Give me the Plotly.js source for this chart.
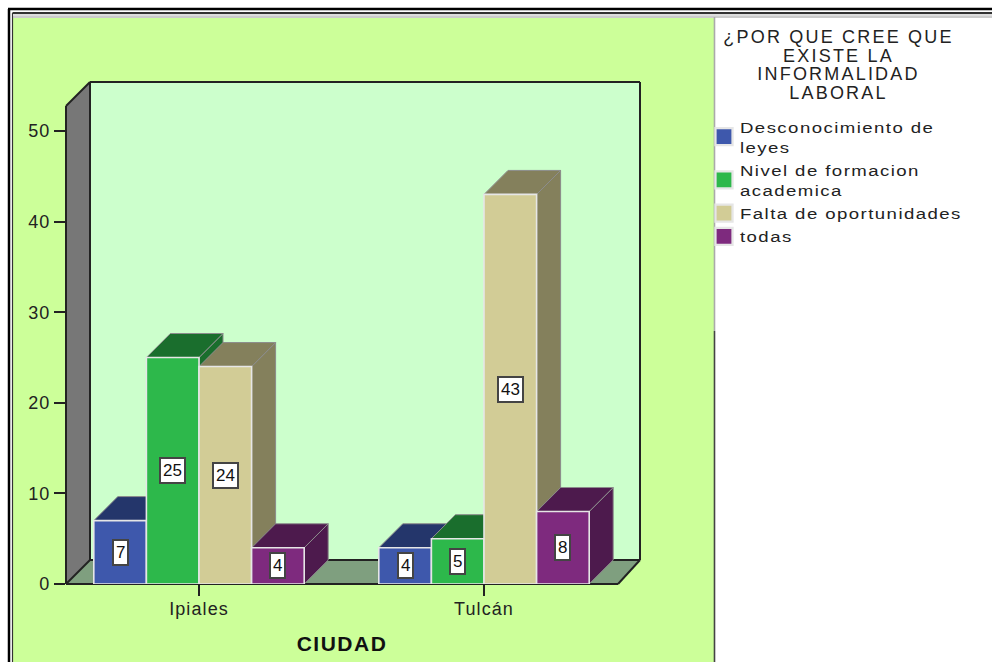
<!DOCTYPE html>
<html>
<head>
<meta charset="utf-8">
<script src="https://cdn.plot.ly/plotly-3.0.1.min.js"></script>
<style>
html,body{margin:0;padding:0;background:#fff;overflow:hidden}
#chart{width:992px;height:662px}
.xtick text,.ytick text{letter-spacing:1.1px}
.xtitle{transform:translateX(-11px);letter-spacing:1.5px}
.legendtext{letter-spacing:1.2px}
.annotation[data-index="0"] text{letter-spacing:2.2px}
</style>
</head>
<body>
<div id="chart"></div>
<script>
// ---- data ----
var cities = ['Ipiales', 'Tulcán'];
var cityPositions = [0, 1];
var seriesNames = ['Desconocimiento de<br>leyes', 'Nivel de formacion<br>academica', 'Falta de oportunidades', 'todas'];
var desconocimiento = [7, 4];
var nivel = [25, 5];
var falta = [24, 43];
var todas = [4, 8];
var seriesValues = [desconocimiento, nivel, falta, todas];
var frontColors = ['#3E58AC', '#2DB84B', '#D2CC96', '#7E2A7E'];
var darkColors = ['#24366B', '#1A6E2D', '#84805C', '#4D1A4D'];
var yTicks = [0, 10, 20, 30, 40, 50];

// ---- geometry ----
var W = 992, H = 662;
var L = 66, R = 640, T = 82, B = 584;       // plot box in px
var pxPerX = 285, pxPerY = 9.06;
var depthPx = 24;
var dx = depthPx / pxPerX, dy = depthPx / pxPerY;
var barW = 52.6 / pxPerX;
var xRange = [(L - 199) / pxPerX, (R - 199) / pxPerX];
var yRange = [0, (B - T) / pxPerY];
function px(x) { return (x - L) / (R - L); }
function py(y) { return (B - y) / (B - T); }

function rect(x0, y0, x1, y1, fill) {
  return {type:'rect', layer:'below', xref:'paper', yref:'paper',
    x0:px(x0), x1:px(x1), y0:py(y0), y1:py(y1), fillcolor:fill, line:{width:0}};
}
function seg(x0, y0, x1, y1, color, w) {
  return {type:'line', layer:'below', xref:'paper', yref:'paper',
    x0:px(x0), x1:px(x1), y0:py(y0), y1:py(y1), line:{color:color, width:w}};
}
function poly(pts, fill) {
  var d = pts.map(function (p, i) { return (i ? 'L' : 'M') + px(p[0]) + ',' + py(p[1]); }).join('') + 'Z';
  return {type:'path', layer:'below', xref:'paper', yref:'paper', path:d, fillcolor:fill, line:{width:0}};
}

var shapes = [
  // outer page frame and green panel
  rect(13, 18, 714, 664, '#CCFF99'),
  seg(8, 9, 992, 9, '#000', 2.5),
  seg(9, 9, 9, 664, '#000', 2.5),
  seg(12.5, 13, 992, 13, '#333', 2),
  seg(12.5, 13, 12.5, 664, '#333', 1.2),
  rect(13, 14, 992, 16, '#DDDDDD'),
  seg(13, 17, 992, 17, '#999', 1),
  seg(714.5, 17, 714.5, 331, '#AAAAAA', 1.6),
  seg(714.5, 331, 714.5, 664, '#444', 1.6),
  // 3D room
  poly([[90, 82], [640, 82], [640, 560], [90, 560]], '#CCFFCC'),
  poly([[66, 106], [90, 82], [90, 560], [66, 584]], '#777777'),
  poly([[66, 584], [90, 560], [640, 560], [618, 584]], '#7F9F7F'),
  seg(90, 82, 640, 82, '#222', 2),
  seg(640, 82, 640, 560, '#222', 2),
  seg(90, 82, 90, 560, '#222', 2),
  seg(66, 106, 66, 584, '#222', 2),
  seg(66, 106, 90, 82, '#222', 2),
  seg(66, 584, 90, 560, '#222', 2),
  seg(90, 560, 640, 560, '#222', 2),
  seg(66, 584, 618, 584, '#222', 2),
  seg(618, 584, 640, 560, '#222', 2)
];

var nSeries = seriesValues.length;
function barOffset(s) { return (s - nSeries / 2) * barW; }
function barLeft(c, s) { return cityPositions[c] + barOffset(s); }

// depth faces (beneath), one side and one top per bar, left to right
var traces = [];
cities.forEach(function (city, c) {
  seriesValues.forEach(function (vals, s) {
    var v = vals[c], x0 = barLeft(c, s), x1 = x0 + barW;
    [
      {x:[x1, x1 + dx, x1 + dx, x1, x1], y:[0, dy, v + dy, v, 0]},
      {x:[x0, x1, x1 + dx, x0 + dx, x0], y:[v, v, v + dy, v + dy, v]}
    ].forEach(function (f) {
      traces.push({type:'scatter', mode:'lines', x:f.x, y:f.y, fill:'toself',
        fillcolor:darkColors[s], line:{color:'#8C8C8C', width:1}, cliponaxis:false,
        showlegend:false, hoverinfo:'skip', xaxis:'x', yaxis:'y'});
    });
  });
});

// front faces: real bars in an overlaid subplot so they cover the faces
seriesValues.forEach(function (vals, s) {
  traces.push({type:'bar', name:seriesNames[s], x:cityPositions, y:vals,
    width:barW, offset:barOffset(s), marker:{color:frontColors[s], line:{color:'#E6E6E6', width:1.6}},
    cliponaxis:false, xaxis:'x', yaxis:'y2'});
});

var annotations = [{
  xref:'paper', yref:'paper', x:px(838), y:py(25), xanchor:'center', yanchor:'top',
  text:'¿POR QUE CREE QUE<br>EXISTE LA<br>INFORMALIDAD<br>LABORAL', align:'center', showarrow:false,
  font:{family:'Liberation Sans', size:18, color:'#222'}
}];
seriesValues.forEach(function (vals, s) {
  vals.forEach(function (v, c) {
    annotations.push({xref:'x', yref:'y', x:barLeft(c, s) + barW / 2, y:v / 2, text:String(v),
      showarrow:false, bgcolor:'#FFFFFF', bordercolor:'#444', borderwidth:2, borderpad:2,
      font:{family:'Liberation Sans', size:17, color:'#111'}});
  });
});

var layout = {
  width:W, height:H,
  margin:{l:L, r:W - R, t:T, b:H - B, pad:0, autoexpand:false},
  paper_bgcolor:'#FFFFFF', plot_bgcolor:'rgba(0,0,0,0)',
  font:{family:'Liberation Sans', color:'#222'},
  barmode:'overlay',
  xaxis:{range:xRange, tickmode:'array', tickvals:cityPositions, ticktext:cities,
    ticks:'outside', ticklen:11, tickwidth:2, tickcolor:'#222', showgrid:false, zeroline:false,
    showline:false, ticklabelstandoff:-3, tickfont:{family:'Liberation Sans', size:18, color:'#222'},
    title:{text:'<b>CIUDAD</b>', standoff:18, font:{family:'Liberation Sans', size:21, color:'#111'}}},
  yaxis:{range:yRange, tickmode:'array', tickvals:yTicks, ticks:'outside', ticklen:11, tickwidth:2,
    tickcolor:'#222', showgrid:false, zeroline:false, showline:false,
    tickfont:{family:'Liberation Sans', size:18, color:'#222'}},
  yaxis2:{range:yRange, overlaying:'y', visible:false},
  legend:{x:px(700), y:py(110), xanchor:'left', yanchor:'top', bgcolor:'rgba(0,0,0,0)',
    font:{family:'Liberation Sans', size:15.5, color:'#222'}, traceorder:'normal'},
  shapes:shapes,
  annotations:annotations
};

Plotly.newPlot('chart', traces, layout, {displayModeBar:false, staticPlot:true}).then(function () {
  // the legend text is widened below, so it must not stay clipped to its measured box
  document.querySelectorAll('.legend, .legend *').forEach(function (n) {
    n.removeAttribute('clip-path');
    if (n.style) n.style.clipPath = 'none';
  });
  // larger legend swatches, wider legend glyphs
  document.querySelectorAll('.legendpoints path').forEach(function (p) {
    p.setAttribute('transform', 'translate(24,0) scale(1.42)');
  });
  document.querySelectorAll('.legendtext').forEach(function (t) {
    var x = parseFloat(t.getAttribute('x')) || 40;
    t.setAttribute('transform', 'translate(' + x + ',0) scale(1.2,1) translate(' + (-x) + ',0)');
  });
  // tighter title line spacing, as in the original
  var title = document.querySelector('.annotation[data-index="0"] text');
  title.querySelectorAll('tspan.line').forEach(function (l, i) { l.setAttribute('dy', (i * 1.04) + 'em'); });
});
</script>
</body>
</html>
